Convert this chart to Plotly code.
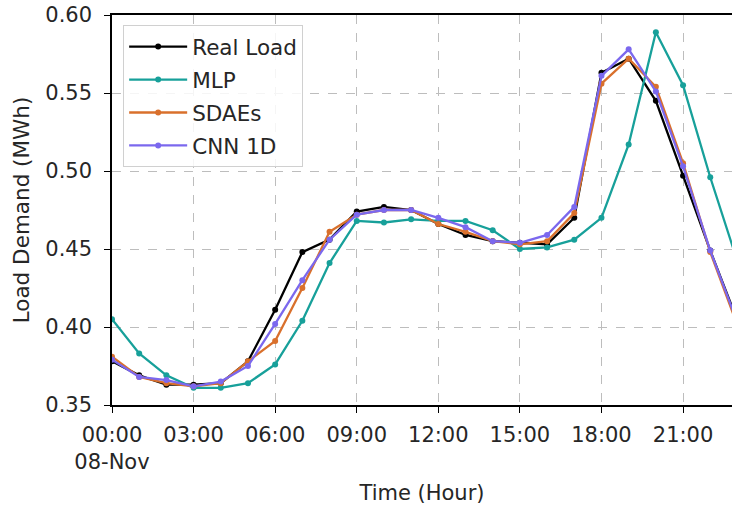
import pandas as pd
import plotly.graph_objects as go

# Hourly timestamps for the day
hours = pd.date_range("2019-11-08 00:00", periods=24, freq="h")

real_load = [0.378, 0.369, 0.363, 0.363, 0.364, 0.378, 0.411, 0.448, 0.456, 0.474,
             0.477, 0.475, 0.466, 0.459, 0.455, 0.454, 0.453, 0.470, 0.563, 0.572,
             0.545, 0.497, 0.449, 0.404]
mlp = [0.405, 0.383, 0.369, 0.361, 0.361, 0.364, 0.376, 0.404, 0.441, 0.468,
       0.467, 0.469, 0.468, 0.468, 0.462, 0.450, 0.451, 0.456, 0.470, 0.517,
       0.589, 0.555, 0.496, 0.442]
sdaes = [0.381, 0.368, 0.364, 0.362, 0.364, 0.378, 0.391, 0.425, 0.461, 0.472,
         0.475, 0.475, 0.466, 0.461, 0.455, 0.453, 0.455, 0.473, 0.556, 0.572,
         0.554, 0.505, 0.448, 0.401]
cnn_1d = [0.379, 0.368, 0.366, 0.362, 0.365, 0.375, 0.402, 0.430, 0.456, 0.472,
          0.475, 0.475, 0.470, 0.464, 0.455, 0.454, 0.459, 0.477, 0.561, 0.578,
          0.551, 0.503, 0.449, 0.403]

series_names = ["Real Load", "MLP", "SDAEs", "CNN 1D"]
series_values = [real_load, mlp, sdaes, cnn_1d]
series_colors = ["#000000", "#17a09a", "#d9702c", "#7b68ee"]

tick_times = pd.date_range("2019-11-08 00:00", periods=8, freq="3h")
tick_labels = ["00:00<br>08-Nov", "03:00", "06:00", "09:00", "12:00", "15:00", "18:00", "21:00"]

y_ticks = [0.35, 0.40, 0.45, 0.50, 0.55, 0.60]

FONT = "DejaVu Sans"
TEXT = "#262626"

fig = go.Figure()
for name, vals, col in zip(series_names, series_values, series_colors):
    fig.add_trace(go.Scatter(
        x=hours, y=vals, name=name, mode="lines+markers",
        legendgroup=name,
        line=dict(color=col, width=2.3),
        marker=dict(color=col, size=6, symbol="circle"),
    ))

fig.update_layout(
    width=732, height=505,
    margin=dict(l=112, r=0, t=15, b=100),
    plot_bgcolor="white", paper_bgcolor="white",
    font=dict(family=FONT, size=21, color=TEXT),
    showlegend=True,
    legend=dict(
        x=0.018, y=0.974, xanchor="left", yanchor="top",
        bgcolor="rgba(255,255,255,0.85)", bordercolor="#d0d0d0", borderwidth=1,
        font=dict(family=FONT, size=21.5, color=TEXT),
        tracegroupgap=2, itemwidth=58,
    ),
    xaxis=dict(
        range=[pd.Timestamp("2019-11-08 00:00"), pd.Timestamp("2019-11-08 22:48")],
        tickmode="array", tickvals=tick_times, ticktext=tick_labels,
        showgrid=True, gridcolor="#bdbdbd", griddash="dash", gridwidth=1,
        showline=True, linecolor="black", linewidth=1.5, mirror=True,
        ticks="outside", ticklen=6, tickcolor="black", ticklabelstandoff=4,
        title=dict(text="Time (Hour)", font=dict(family=FONT, size=21), standoff=14),
        zeroline=False,
    ),
    yaxis=dict(
        range=[0.35, 0.60],
        tickmode="array", tickvals=y_ticks, ticktext=[f"{v:.2f}" for v in y_ticks],
        showgrid=True, gridcolor="#bdbdbd", griddash="dash", gridwidth=1,
        showline=True, linecolor="black", linewidth=1.5,
        ticks="outside", ticklen=6, tickcolor="black", ticklabelstandoff=8,
        title=dict(text="Load Demand (MWh)", font=dict(family=FONT, size=21.5), standoff=10),
        zeroline=False,
    ),
)

fig.write_html("out.html")
